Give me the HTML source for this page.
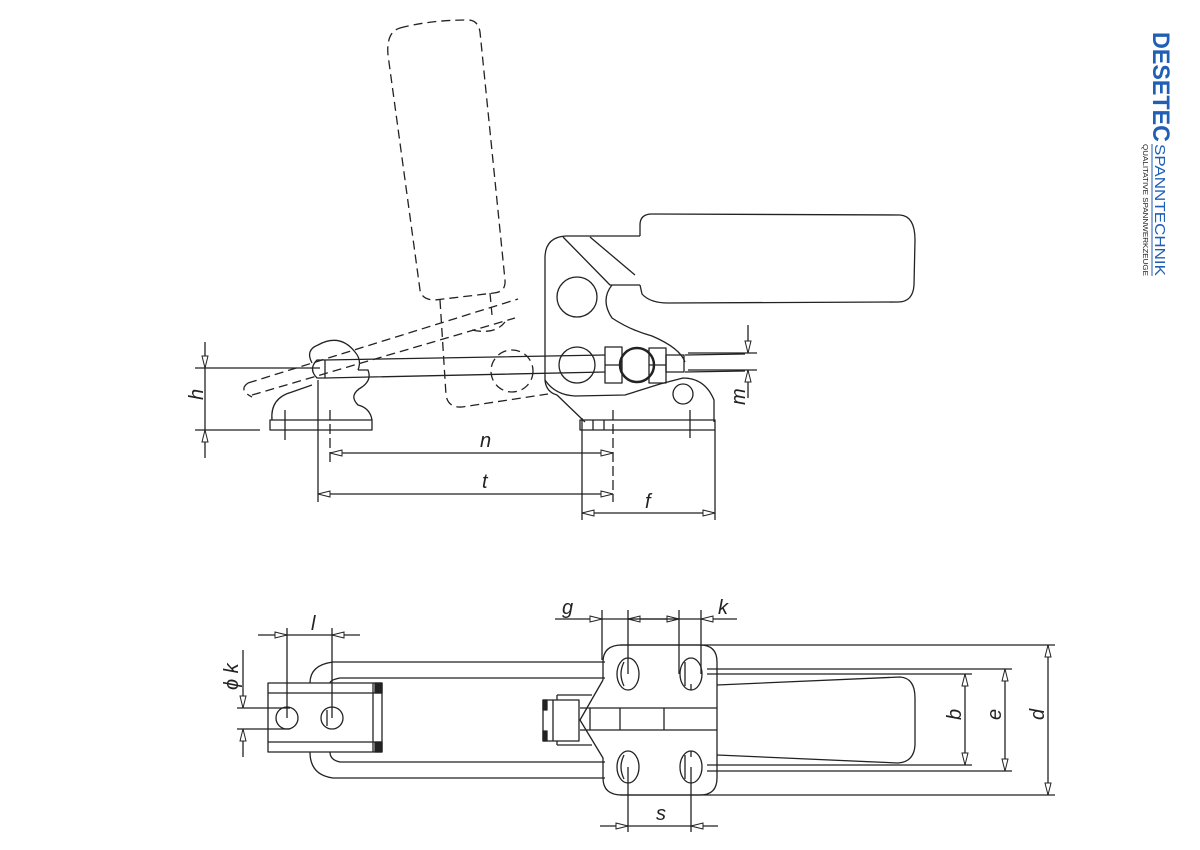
<!DOCTYPE html>
<html><head><meta charset="utf-8"><style>
html,body{margin:0;padding:0;background:#fff;}
svg{display:block;}
text{font-family:"Liberation Sans",sans-serif;font-style:italic;fill:#222;}
text.logo{font-style:normal;}
</style></head><body>
<svg width="1200" height="850" viewBox="0 0 1200 850" xmlns="http://www.w3.org/2000/svg">
<defs>
<marker id="a" markerWidth="14" markerHeight="8" refX="13" refY="4" orient="auto" markerUnits="userSpaceOnUse">
<path d="M1,1 L13,4 L1,7 Z" fill="#fff" stroke="#222" stroke-width="1"/>
</marker>
</defs>
<g fill="none" stroke="#222" stroke-width="1.3" stroke-linejoin="round">
<g stroke-dasharray="9,5">
<path d="M400,28 Q430,20 468,20 Q478,20 480,32 L505,280 Q506,292 494,293 L435,300 Q422,300 420,290 L388,55 Q386,32 400,28 Z"/>
<path d="M440,300 L446,395 Q448,408 462,407 L548,394"/>
<path d="M490,293 L492,315"/>
<circle cx="512" cy="371" r="21"/>
<path d="M248,383 L518,299"/>
<path d="M252,395 L515,318"/>
<path d="M248,383 Q238,390 252,397"/>
<path d="M472,330 Q495,335 505,322"/>
</g>
<path d="M545,258 Q545,237 566,236 L640,236"/>
<path d="M545,258 L545,380 Q546,392 557,395 L585,422"/>
<path d="M563,237 L610,285 L640,285"/>
<path d="M590,237 L635,275"/>
<path d="M612,285 Q600,300 612,318 Q630,330 652,336 Q680,348 685,362"/>
<path d="M545,380 Q555,395 575,396 L625,395 L660,384 L683,378 Q705,378 714,400 L714,422"/>
<circle cx="577" cy="297" r="20"/>
<circle cx="577" cy="365" r="18"/>
<circle cx="683" cy="394" r="10"/>
<rect x="580" y="420" width="135" height="10"/>
<line x1="604" y1="420" x2="604" y2="430"/>
<line x1="593" y1="420" x2="593" y2="430"/>
<path d="M640,236 L640,225 Q640,214 652,214 L900,215 Q915,216 915,240 L914,285 Q913,302 898,302 L668,303 Q650,303 642,294 L640,285"/>
<path d="M325,360 L605,355 M325,378 L605,372"/>
<path d="M325,360 L317,360 Q308,369 317,378 L325,378 Z"/>
<line x1="325" y1="360" x2="325" y2="378" stroke-width="1"/>
<path d="M685,355 L745,354 M685,372 L745,371"/>
<rect x="605" y="347" width="17" height="36"/><line x1="605" y1="365" x2="622" y2="365"/>
<circle cx="637" cy="365" r="17" stroke-width="2.5"/>
<rect x="649" y="348" width="17" height="35"/><line x1="649" y1="365" x2="666" y2="365"/>
<rect x="666" y="355" width="18" height="17"/>
<rect x="270" y="420" width="102" height="10"/>
<path d="M272,420 Q270,398 292,392 L312,385"/>
<path d="M312,363 Q305,350 318,345 Q340,333 355,352 Q362,360 358,370"/>
<path d="M372,420 Q370,408 358,405 Q348,395 362,387 Q372,380 368,370 L358,370"/>
<line x1="285" y1="410" x2="285" y2="440"/>
<line x1="195" y1="368" x2="320" y2="368"/>
<line x1="195" y1="430" x2="260" y2="430"/>
<line x1="205" y1="342" x2="205" y2="368" marker-end="url(#a)"/>
<line x1="205" y1="458" x2="205" y2="430" marker-end="url(#a)"/>
<line x1="205" y1="368" x2="205" y2="430"/>
<line x1="688" y1="353" x2="757" y2="353"/>
<line x1="688" y1="370" x2="757" y2="370"/>
<line x1="748" y1="325" x2="748" y2="353" marker-end="url(#a)"/>
<line x1="748" y1="398" x2="748" y2="370" marker-end="url(#a)"/>
<line x1="318" y1="380" x2="318" y2="502"/>
<line x1="330" y1="410" x2="330" y2="462" stroke-dasharray="10,4"/>
<line x1="582" y1="418" x2="582" y2="520"/>
<line x1="613" y1="410" x2="613" y2="502" stroke-dasharray="10,4"/>
<line x1="715" y1="430" x2="715" y2="520"/>
<line x1="690" y1="410" x2="690" y2="438"/>
<line x1="460" y1="453" x2="330" y2="453" marker-end="url(#a)"/>
<line x1="460" y1="453" x2="613" y2="453" marker-end="url(#a)"/>
<line x1="460" y1="494" x2="318" y2="494" marker-end="url(#a)"/>
<line x1="460" y1="494" x2="613" y2="494" marker-end="url(#a)"/>
<line x1="650" y1="513" x2="582" y2="513" marker-end="url(#a)"/>
<line x1="650" y1="513" x2="715" y2="513" marker-end="url(#a)"/>

<path d="M605,662 L333,662 Q310,665 310,683"/>
<path d="M605,678 L340,678 Q330,680 330,683"/>
<path d="M605,778 L333,778 Q310,775 310,752"/>
<path d="M605,762 L340,762 Q330,760 330,752"/>
<rect x="268" y="683" width="114" height="69"/>
<line x1="268" y1="693" x2="382" y2="693"/>
<line x1="268" y1="742" x2="382" y2="742"/>
<line x1="373" y1="683" x2="373" y2="752"/>
<rect x="375" y="683" width="7" height="10" fill="#222"/>
<rect x="375" y="742" width="7" height="10" fill="#222"/>
<circle cx="287" cy="718" r="11"/>
<circle cx="332" cy="718" r="11"/>
<line x1="327" y1="710" x2="327" y2="726"/>
<line x1="287" y1="628" x2="287" y2="718"/>
<line x1="332" y1="628" x2="332" y2="718"/>
<line x1="258" y1="635" x2="287" y2="635" marker-end="url(#a)"/>
<line x1="360" y1="635" x2="332" y2="635" marker-end="url(#a)"/>
<line x1="287" y1="635" x2="332" y2="635"/>
<line x1="237" y1="708" x2="290" y2="708"/>
<line x1="237" y1="729" x2="290" y2="729"/>
<line x1="243" y1="650" x2="243" y2="708" marker-end="url(#a)"/>
<line x1="243" y1="757" x2="243" y2="729" marker-end="url(#a)"/>
<path d="M603,680 L603,662 Q603,645 622,645 L700,645 Q717,645 717,662 L717,778 Q717,795 700,795 L622,795 Q603,795 603,778 L603,758 L580,720 L603,680"/>
<ellipse cx="628" cy="674" rx="11" ry="16"/>
<ellipse cx="691" cy="674" rx="11" ry="16"/>
<ellipse cx="628" cy="767" rx="11" ry="16"/>
<ellipse cx="691" cy="767" rx="11" ry="16"/>
<path d="M624,662 Q618,674 624,686 M685,662 L685,686 M691,690 L691,684"/>
<path d="M624,755 Q618,767 624,779 M685,755 L685,779 M691,751 L691,757"/>
<rect x="543" y="700" width="36" height="41"/>
<line x1="553" y1="700" x2="553" y2="741"/>
<rect x="543" y="700" width="4" height="10" fill="#222"/>
<rect x="543" y="731" width="4" height="10" fill="#222"/>
<line x1="557" y1="695" x2="592" y2="695"/><line x1="557" y1="745" x2="592" y2="745"/>
<line x1="557" y1="695" x2="557" y2="700"/><line x1="557" y1="741" x2="557" y2="745"/>
<line x1="580" y1="708" x2="717" y2="708"/>
<line x1="580" y1="730" x2="717" y2="730"/>
<line x1="590" y1="708" x2="590" y2="730"/>
<line x1="620" y1="708" x2="620" y2="730"/>
<line x1="664" y1="708" x2="664" y2="730"/>
<path d="M717,685 L900,677 Q915,678 915,698 L915,745 Q914,762 898,763 L717,755"/>
<line x1="707" y1="669" x2="1012" y2="669"/>
<line x1="707" y1="674" x2="972" y2="674"/>
<line x1="707" y1="765" x2="972" y2="765"/>
<line x1="707" y1="771" x2="1012" y2="771"/>
<line x1="620" y1="645" x2="1055" y2="645"/>
<line x1="620" y1="795" x2="1055" y2="795"/>
<line x1="965" y1="720" x2="965" y2="674" marker-end="url(#a)"/>
<line x1="965" y1="720" x2="965" y2="765" marker-end="url(#a)"/>
<line x1="1005" y1="720" x2="1005" y2="669" marker-end="url(#a)"/>
<line x1="1005" y1="720" x2="1005" y2="771" marker-end="url(#a)"/>
<line x1="1048" y1="720" x2="1048" y2="645" marker-end="url(#a)"/>
<line x1="1048" y1="720" x2="1048" y2="795" marker-end="url(#a)"/>
<line x1="602" y1="610" x2="602" y2="660"/>
<line x1="628" y1="610" x2="628" y2="674"/>
<line x1="679" y1="610" x2="679" y2="674"/>
<line x1="701" y1="610" x2="701" y2="674"/>
<line x1="555" y1="619" x2="602" y2="619" marker-end="url(#a)"/>
<line x1="654" y1="619" x2="628" y2="619" marker-end="url(#a)"/>
<line x1="654" y1="619" x2="679" y2="619" marker-end="url(#a)"/>
<line x1="737" y1="619" x2="701" y2="619" marker-end="url(#a)"/>
<line x1="602" y1="619" x2="701" y2="619"/>
<line x1="628" y1="767" x2="628" y2="832"/>
<line x1="691" y1="767" x2="691" y2="832"/>
<line x1="600" y1="826" x2="628" y2="826" marker-end="url(#a)"/>
<line x1="718" y1="826" x2="691" y2="826" marker-end="url(#a)"/>
<line x1="628" y1="826" x2="691" y2="826"/>
</g>
<g font-size="20">
<text x="480" y="447">n</text>
<text x="482" y="488">t</text>
<text x="645" y="508">f</text>
<text transform="translate(203,400) rotate(-90)">h</text>
<text transform="translate(745,405) rotate(-90)">m</text>
<text x="311" y="630">l</text>
<text transform="translate(238,690) rotate(-90)">ϕ k</text>
<text x="562" y="614">g</text>
<text x="718" y="614">k</text>
<text x="656" y="820">s</text>
<text transform="translate(961,720) rotate(-90)">b</text>
<text transform="translate(1001,720) rotate(-90)">e</text>
<text transform="translate(1044,720) rotate(-90)">d</text>
</g>
<g transform="translate(1150,32) rotate(90)">
<text class="logo" x="0" y="-3" font-size="24" font-weight="bold" style="fill:#1f5fb5" textLength="110" lengthAdjust="spacingAndGlyphs">DESETEC</text>
<text class="logo" x="112" y="-5" font-size="15" style="fill:#1f5fb5" textLength="132" lengthAdjust="spacingAndGlyphs">SPANNTECHNIK</text>
<line x1="112" y1="-2" x2="244" y2="-2" stroke="#1f5fb5" stroke-width="1"/>
<text class="logo" x="112" y="7" font-size="7" textLength="132" lengthAdjust="spacingAndGlyphs">QUALITATIVE SPANNWERKZEUGE</text>
</g>
</svg>
</body></html>
